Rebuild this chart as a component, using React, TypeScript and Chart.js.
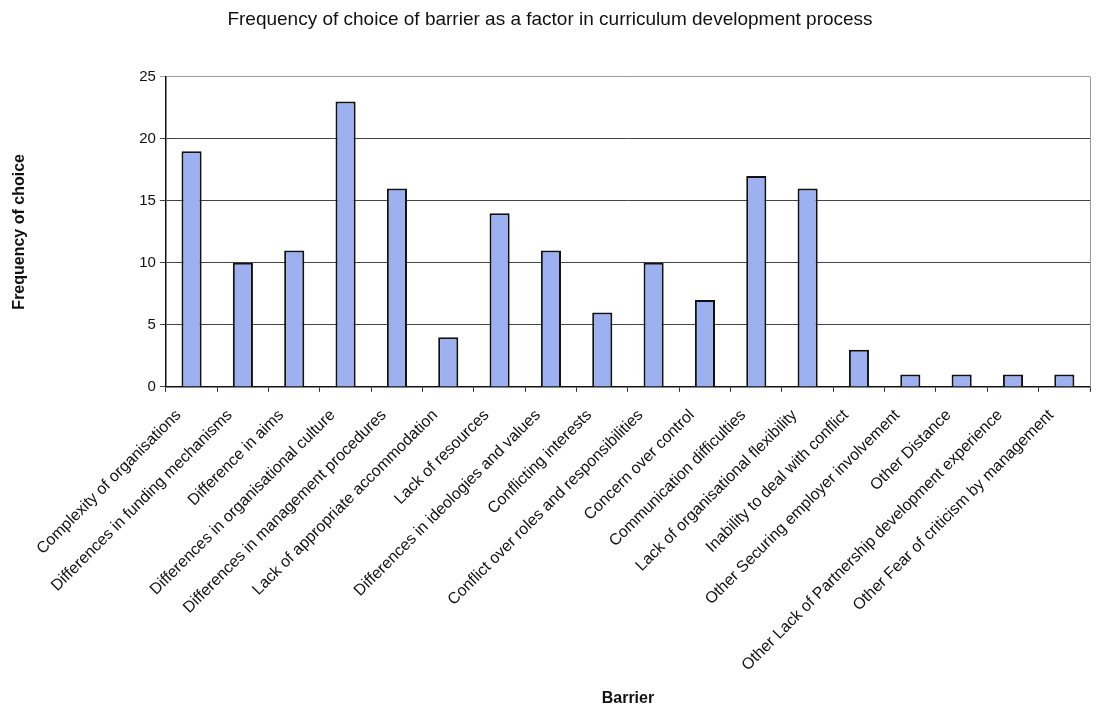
import React, { useEffect, useRef } from "react";
import { Chart, registerables } from "chart.js";

Chart.register(...registerables);

const categories = [
  "Complexity of organisations",
  "Differences in funding mechanisms",
  "Difference in aims",
  "Differences in organisational culture",
  "Differences in management procedures",
  "Lack of appropriate accommodation",
  "Lack of resources",
  "Differences in ideologies and values",
  "Conflicting interests",
  "Conflict over roles and responsibilities",
  "Concern over control",
  "Communication difficulties",
  "Lack of organisational flexibility",
  "Inability to deal with conflict",
  "Other Securing employer involvement",
  "Other Distance",
  "Other Lack of Partnership development experience",
  "Other Fear of criticism by management",
];

const frequencies = [19, 10, 11, 23, 16, 4, 14, 11, 6, 10, 7, 17, 16, 3, 1, 1, 1, 1];

const yTicks = [0, 5, 10, 15, 20, 25];

const FONT = "'Liberation Sans', Arial, sans-serif";

const framePlugin = {
  id: "frame",
  afterDatasetsDraw(chart: any) {
    const { ctx, chartArea } = chart;
    ctx.save();
    ctx.strokeStyle = "#999";
    ctx.lineWidth = 1;
    ctx.beginPath();
    ctx.moveTo(chartArea.right + 0.5, chartArea.top);
    ctx.lineTo(chartArea.right + 0.5, chartArea.bottom);
    ctx.stroke();
    ctx.restore();
  },
};

export default function App() {
  const ref = useRef<HTMLCanvasElement | null>(null);

  useEffect(() => {
    document.body.style.margin = "0";
    if (!ref.current) return;
    const chart = new Chart(ref.current, {
      type: "bar",
      data: {
        labels: categories,
        datasets: [
          {
            label: "Frequency of choice",
            data: frequencies,
            backgroundColor: "#9db0f0",
            borderColor: "#111",
            borderWidth: 2,
            barPercentage: 0.8,
            categoryPercentage: 0.49,
          },
        ],
      },
      options: {
        animation: false,
        responsive: false,
        devicePixelRatio: 1,
        layout: { padding: { left: 10, right: 9, top: 0, bottom: 0 } },
        plugins: {
          legend: { display: false },
          tooltip: { enabled: false },
          title: {
            display: true,
            text: "Frequency of choice of barrier as a factor in curriculum development process",
            color: "#111",
            font: { family: FONT, size: 19, weight: "normal" },
            padding: { top: 8, bottom: 46 },
          },
        },
        scales: {
          x: {
            grid: { drawOnChartArea: false, drawTicks: true, tickLength: 5, color: "#333", offset: true },
            border: { color: "#111", width: 1.5 },
            ticks: {
              minRotation: 45,
              maxRotation: 45,
              autoSkip: false,
              color: "#111",
              padding: 14,
              labelOffset: -13,
              font: { family: FONT, size: 16 },
            },
            title: {
              display: true,
              text: "Barrier",
              color: "#111",
              font: { family: FONT, size: 16, weight: "bold" },
              padding: { top: 0, bottom: 3 },
            },
          },
          y: {
            min: 0,
            max: 25,
            afterBuildTicks: (axis: any) => {
              axis.ticks = yTicks.map((v) => ({ value: v }));
            },
            grid: { color: (c: any) => (c.tick && c.tick.value === 25 ? "#999" : "#444"), tickLength: 6, lineWidth: 1 },
            border: { color: "#111", width: 1.5 },
            ticks: { color: "#111", padding: 4, font: { family: FONT, size: 15 } },
            title: {
              display: true,
              text: "Frequency of choice",
              color: "#111",
              font: { family: FONT, size: 16, weight: "bold" },
              padding: { top: 0, bottom: 106 },
            },
          },
        },
      },
      plugins: [framePlugin],
    });
    return () => chart.destroy();
  }, []);

  return <canvas ref={ref} width={1099} height={711} style={{ display: "block" }} />;
}
